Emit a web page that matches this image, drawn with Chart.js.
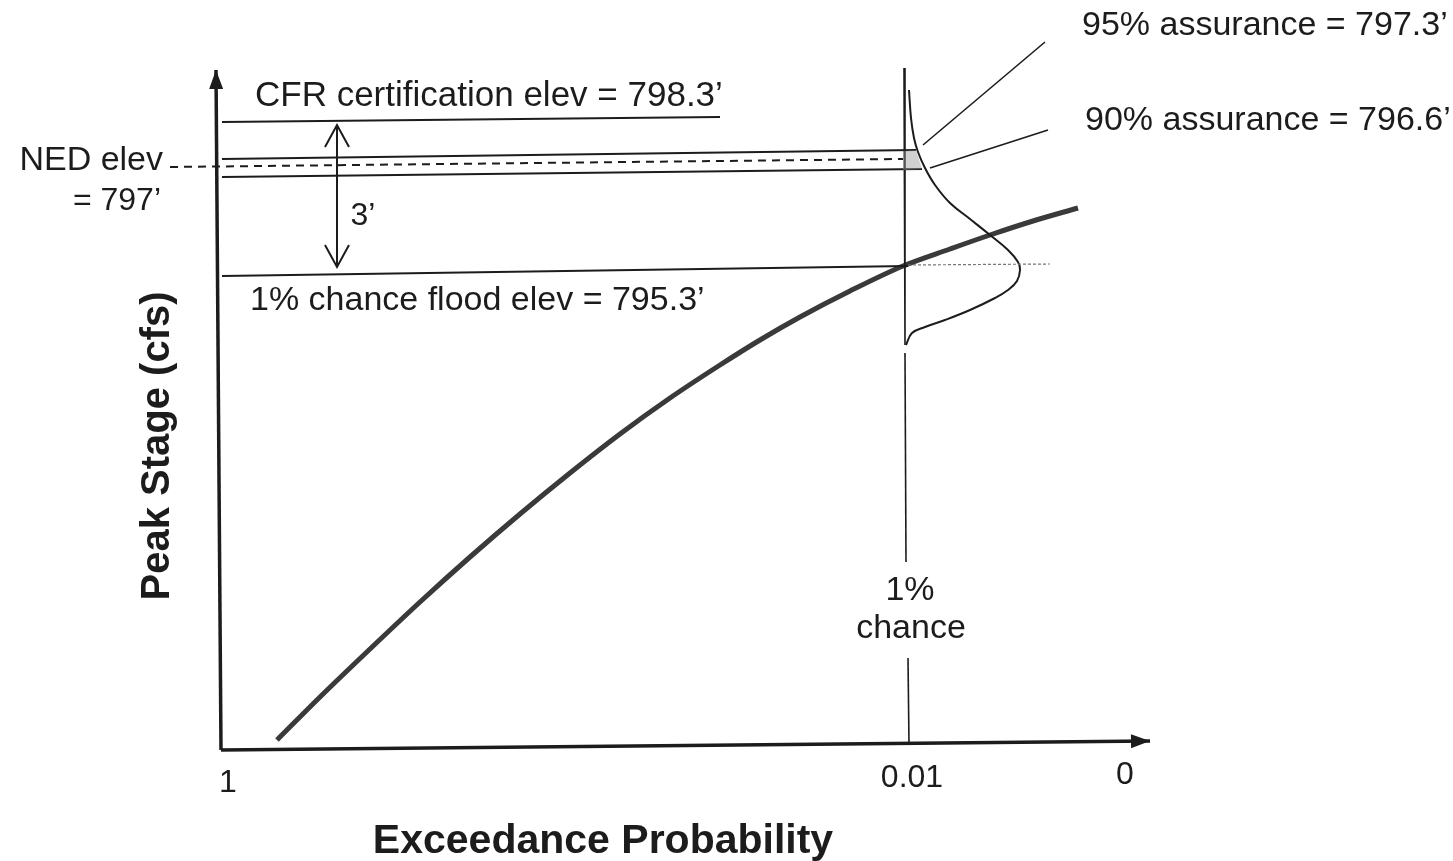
<!DOCTYPE html>
<html>
<head>
<meta charset="utf-8">
<script src="https://cdn.jsdelivr.net/npm/chart.js@4.4.1/dist/chart.umd.min.js"></script>
<style>
  html, body { margin: 0; padding: 0; background: #fff; }
  #wrap { width: 1453px; height: 861px; position: relative; }
</style>
</head>
<body>
<div id="wrap"><canvas id="chart"></canvas></div>
<script>
// Diagram space: x runs left->right across the sheet, y runs top->bottom (scale reversed)

// Stage-frequency curve
const curveX = [277, 320, 370, 420, 470, 520, 570, 620, 670, 720, 760, 800, 850, 903, 950, 990, 1033, 1078];
const curveY = [740, 697, 649, 602, 557, 514, 473, 434, 398, 365, 340, 317, 291, 266, 249, 235, 221, 208];

// Uncertainty distribution at the 1% event
const distX = [909, 911, 914, 918, 925, 935, 950, 970, 990, 1008, 1018, 1020, 1017, 1008, 995, 970, 945, 925, 912, 906];
const distY = [90, 118, 138, 152, 168, 185, 203, 219, 235, 250, 262, 270, 281, 290, 298, 310, 320, 327, 333, 345];

// Reference elevations (start / end of each line)
const cfrLine = { x: [222, 720], y: [122, 117] };
const assur95Line = { x: [222, 916], y: [159, 150] };
const nedLine = { x: [170, 903], y: [167, 159] };
const assur90Line = { x: [222, 922], y: [177, 169] };
const floodLine = { x: [222, 908], y: [276, 266] };
const floodExt = { x: [908, 1050], y: [265, 264] };
const freeboard = { x: [337, 337], y: [125, 267] };
const shadeX = [903, 916, 922, 903];
const shadeY = [151, 150, 169, 170];

// Axes and the 1% chance marker
const yAxisLine = { x: [221, 216], y: [750, 70] };
const xAxisLine = { x: [221, 1150], y: [750, 741] };
const onePctTop = { x: [904, 905], y: [68, 345] };
const onePctMid = { x: [905, 906], y: [353, 562] };
const onePctLow = { x: [908, 909], y: [658, 745] };
const leader95 = { x: [923, 1045], y: [145, 42] };
const leader90 = { x: [930, 1048], y: [168, 130] };

// Tick labels on the probability axis
const tickLabels = ['1', '0.01', '0'];
const tickX = [228, 912, 1125];
const tickY = [783, 778, 775];

const toPts = (xs, ys) => xs.map((x, i) => ({ x, y: ys[i] }));
const INK = '#1c1c1c';

function seg(line, extra) {
    return Object.assign({
        data: toPts(line.x, line.y),
        showLine: true,
        borderColor: INK,
        borderWidth: 2,
        pointRadius: 0,
        tension: 0
    }, extra || {});
}

const datasets = [
    seg({ x: shadeX, y: shadeY }, { borderColor: 'rgba(0,0,0,0)', backgroundColor: 'rgba(150,150,150,0.45)', fill: 'shape' }),
    seg(yAxisLine, { borderWidth: 3.5, arrow: 'end', arrowFill: true }),
    seg(xAxisLine, { borderWidth: 3.5, arrow: 'end', arrowFill: true }),
    seg(cfrLine, { borderWidth: 2 }),
    seg(assur95Line, { borderWidth: 2 }),
    seg(nedLine, { borderWidth: 2, borderDash: [8, 6] }),
    seg(assur90Line, { borderWidth: 2 }),
    seg(floodLine, { borderWidth: 2 }),
    seg(floodExt, { borderWidth: 1.2, borderColor: '#777', borderDash: [3, 2] }),
    seg(freeboard, { borderWidth: 2, arrow: 'both', arrowFill: false }),
    seg(onePctTop, { borderWidth: 1.6 }),
    seg(onePctMid, { borderWidth: 1.6 }),
    seg(onePctLow, { borderWidth: 1.6 }),
    seg(leader95, { borderWidth: 1.6 }),
    seg(leader90, { borderWidth: 1.6 }),
    seg({ x: distX, y: distY }, { borderWidth: 2, tension: 0.4 }),
    seg({ x: curveX, y: curveY }, { borderWidth: 5, borderColor: '#3a3a3a', cubicInterpolationMode: 'monotone' })
];

// Free text on the diagram
const notes = [
    { text: 'CFR certification elev = 798.3\u2019', x: 255, y: 96, size: 35, align: 'left' },
    { text: '1% chance flood elev = 795.3\u2019', x: 250, y: 301, size: 34, align: 'left' },
    { text: '95% assurance = 797.3\u2019', x: 1082, y: 26, size: 34, align: 'left' },
    { text: '90% assurance = 796.6\u2019', x: 1085, y: 121, size: 34, align: 'left' },
    { text: 'NED elev', x: 163, y: 161, size: 34, align: 'right' },
    { text: '= 797\u2019', x: 161, y: 201, size: 32, align: 'right' },
    { text: '3\u2019', x: 363, y: 216, size: 32, align: 'center' },
    { text: '1%', x: 910, y: 591, size: 34, align: 'center' },
    { text: 'chance', x: 911, y: 629, size: 34, align: 'center' },
    { text: 'Exceedance Probability', x: 603, y: 842, size: 41, bold: true, align: 'center' },
    { text: 'Peak Stage (cfs)', x: 158, y: 446, size: 40, bold: true, align: 'center', rotate: -90 }
];
tickLabels.forEach((t, i) => notes.push({ text: t, x: tickX[i], y: tickY[i], size: 32, align: 'center' }));

function drawArrow(ctx, from, to, filled) {
    const ang = Math.atan2(to.y - from.y, to.x - from.x);
    const len = filled ? 19 : 22;
    const half = filled ? 7 : 12;
    const bx = to.x - len * Math.cos(ang), by = to.y - len * Math.sin(ang);
    const px = -Math.sin(ang) * half, py = Math.cos(ang) * half;
    ctx.beginPath();
    ctx.moveTo(bx + px, by + py);
    ctx.lineTo(to.x, to.y);
    ctx.lineTo(bx - px, by - py);
    if (filled) {
        ctx.closePath();
        ctx.fillStyle = INK;
        ctx.fill();
    } else {
        ctx.strokeStyle = INK;
        ctx.lineWidth = 2;
        ctx.stroke();
    }
}

const arrowPlugin = {
    id: 'arrows',
    afterDatasetsDraw(chart) {
        const ctx = chart.ctx;
        ctx.save();
        chart.data.datasets.forEach((ds, i) => {
            if (!ds.arrow) return;
            const pts = chart.getDatasetMeta(i).data;
            const n = pts.length;
            drawArrow(ctx, pts[n - 2], pts[n - 1], ds.arrowFill);
            if (ds.arrow === 'both') drawArrow(ctx, pts[1], pts[0], ds.arrowFill);
        });
        ctx.restore();
    }
};

const notesPlugin = {
    id: 'notes',
    afterDraw(chart) {
        const ctx = chart.ctx;
        const sx = chart.scales.x, sy = chart.scales.y;
        ctx.save();
        ctx.fillStyle = INK;
        ctx.textBaseline = 'middle';
        notes.forEach(n => {
            ctx.save();
            ctx.translate(sx.getPixelForValue(n.x), sy.getPixelForValue(n.y));
            if (n.rotate) ctx.rotate(n.rotate * Math.PI / 180);
            ctx.font = (n.bold ? 'bold ' : '') + n.size + 'px "Liberation Sans", Arial, sans-serif';
            ctx.textAlign = n.align;
            ctx.fillText(n.text, 0, 0);
            ctx.restore();
        });
        ctx.restore();
    }
};

new Chart(document.getElementById('chart'), {
    type: 'scatter',
    data: { datasets },
    options: {
        responsive: true,
        maintainAspectRatio: false,
        animation: false,
        events: [],
        layout: { padding: 0 },
        plugins: { legend: { display: false }, tooltip: { enabled: false } },
        scales: {
            x: { type: 'linear', min: 0, max: 1453, display: false },
            y: { type: 'linear', min: 0, max: 861, reverse: true, display: false }
        }
    },
    plugins: [arrowPlugin, notesPlugin]
});
</script>
</body>
</html>
